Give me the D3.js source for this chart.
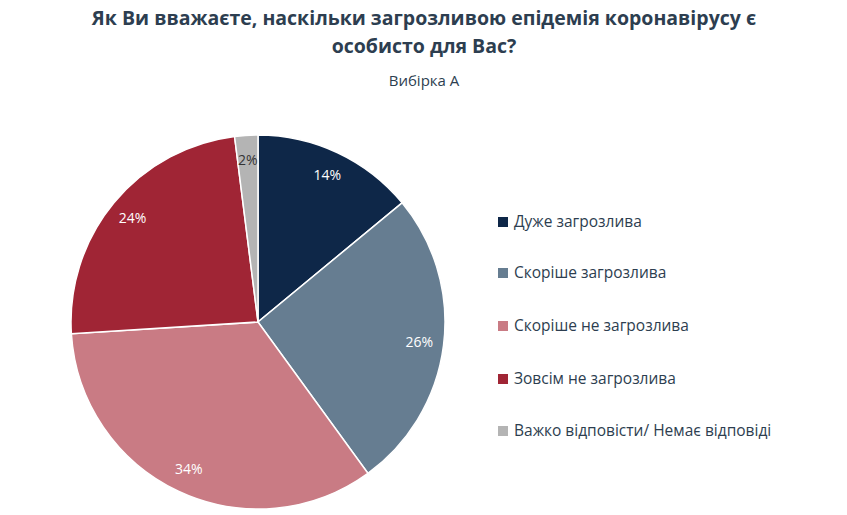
<!DOCTYPE html>
<html><head><meta charset="utf-8">
<script src="https://cdn.jsdelivr.net/npm/d3@7"></script>
<style>body{margin:0;background:#fff}</style></head>
<body><svg id="c" width="847" height="515"></svg>
<script>
const categories=["Дуже загрозлива","Скоріше загрозлива","Скоріше не загрозлива","Зовсім не загрозлива","Важко відповісти/ Немає відповіді"];
const values=[14,26,34,24,2];
const colors=["#0e2748","#667d91","#c97b84","#a02535","#b4b4b4"];
const labelColors=["#fff","#fff","#fff","#fff","#333"];
const svg=d3.select("#c");
const font="Open Sans, Liberation Sans, sans-serif";
svg.append("text").attr("x",424).attr("y",25).attr("text-anchor","middle").attr("font-family",font).attr("font-weight","bold").attr("font-size",19.5).attr("fill","#2d3e50").text("Як Ви вважаєте, наскільки загрозливою епідемія коронавірусу є");
svg.append("text").attr("x",424).attr("y",53).attr("text-anchor","middle").attr("font-family",font).attr("font-weight","bold").attr("font-size",19.5).attr("fill","#2d3e50").text("особисто для Вас?");
svg.append("text").attr("x",424).attr("y",86).attr("text-anchor","middle").attr("font-family",font).attr("font-size",15).attr("fill","#2d3e50").text("Вибірка А");
const cx=258,cy=322,r=187;
const pie=d3.pie().sort(null)(values);
const arc=d3.arc().innerRadius(0).outerRadius(r);
const lab=d3.arc().innerRadius(r*0.87).outerRadius(r*0.87);
const g=svg.append("g").attr("transform",`translate(${cx},${cy})`);
g.selectAll("path").data(pie).join("path").attr("d",arc).attr("fill",(d,i)=>colors[i]).attr("stroke","#fff").attr("stroke-width",1.5);
g.selectAll("text").data(pie).join("text").attr("transform",d=>`translate(${lab.centroid(d)})`).attr("text-anchor","middle").attr("dy","0.35em").attr("font-family",font).attr("font-size",14).attr("fill",(d,i)=>labelColors[i]).text(d=>d.data+"%");
const ys=[222,273,326,379,431];
const lg=svg.append("g");
categories.forEach((c,i)=>{
 lg.append("rect").attr("x",498).attr("y",ys[i]-5).attr("width",10).attr("height",10).attr("fill",colors[i]);
 lg.append("text").attr("x",514).attr("y",ys[i]).attr("dy","0.35em").attr("font-family",font).attr("font-size",15.5).attr("fill","#2d3e50").text(c);
});
</script></body></html>
